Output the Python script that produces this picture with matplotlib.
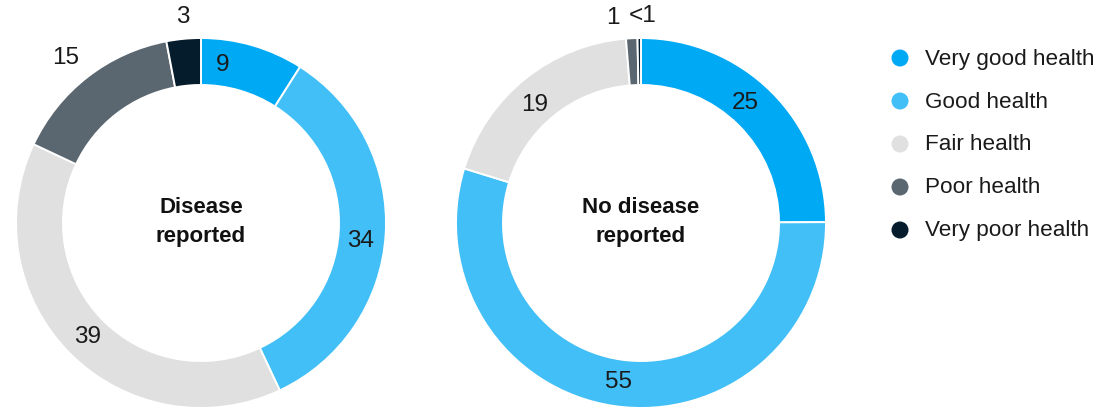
import numpy as np
import matplotlib
matplotlib.use("Agg")
import matplotlib.pyplot as plt

plt.rcParams["font.family"] = ["Liberation Sans", "DejaVu Sans"]

# --- data -------------------------------------------------------------
categories = ["Very good health", "Good health", "Fair health",
              "Poor health", "Very poor health"]
disease_values = [9, 34, 39, 15, 3]
no_disease_values = [25, 55, 19, 1, 0.3]   # last share is below 1%
chart_titles = ["Disease\nreported", "No disease\nreported"]

colors = ["#00A9F4", "#41BFF6", "#E0E0E0", "#5B6770", "#051C2C"]
text_color = "#1A1A1A"

# --- layout (pixel units, origin top-left) ----------------------------
W, H = 1111, 410
centers = [(201, 224), (641, 224)]
R_OUT, RING = 185, 47
R_IN_LABEL = 160
# which labels sit outside the ring, plus small angular nudges (deg)
outside = [[False, False, False, True, True],
           [False, False, False, True, True]]
out_radius = [[0, 0, 0, 214, 208],
              [0, 0, 0, 208, 208]]
nudges = [[-8.6, 2.6, 0, -1.5, 0.5],
          [-4.0, -0.5, -3.0, -5.0, 1.0]]

fig = plt.figure(figsize=(W / 100, H / 100), dpi=100)
ax = fig.add_axes([0, 0, 1, 1])
ax.set_xlim(0, W)
ax.set_ylim(0, H)
ax.axis("off")


def fmt(v):
    return "<1" if v < 1 else f"{v:g}"


for k, values in enumerate([disease_values, no_disease_values]):
    cx, cy = centers[k]
    cy = H - cy
    ax.pie(values, colors=colors, startangle=90, counterclock=False,
           radius=R_OUT, center=(cx, cy),
           wedgeprops=dict(width=RING, edgecolor="white", linewidth=1.4))
    total = float(np.sum(values))
    cum = np.cumsum([0] + list(values))
    for i, v in enumerate(values):
        mid_frac = (cum[i] + v / 2) / total
        ang = np.deg2rad(mid_frac * 360 + nudges[k][i])
        r = out_radius[k][i] if outside[k][i] else R_IN_LABEL
        x = cx + r * np.sin(ang)
        y = cy + r * np.cos(ang)
        ax.text(x, y, fmt(v), ha="center", va="center", fontsize=17.5,
                color=text_color)
    ax.text(cx, cy + 2, chart_titles[k], ha="center", va="center",
            fontsize=16, fontweight="bold", color="#111111",
            linespacing=1.45)

# legend
leg_x, leg_y0, leg_dy = 900, H - 59, 43
for i, (cat, col) in enumerate(zip(categories, colors)):
    y = leg_y0 - i * leg_dy
    ax.scatter([leg_x], [y], s=150, color=col, edgecolors="none")
    ax.text(leg_x + 25, y, cat, ha="left", va="center", fontsize=16.2,
            color=text_color)

ax.set_xlim(0, W)
ax.set_ylim(0, H)
ax.set_aspect("auto")
fig.savefig("out.png", dpi=100, facecolor="white")
